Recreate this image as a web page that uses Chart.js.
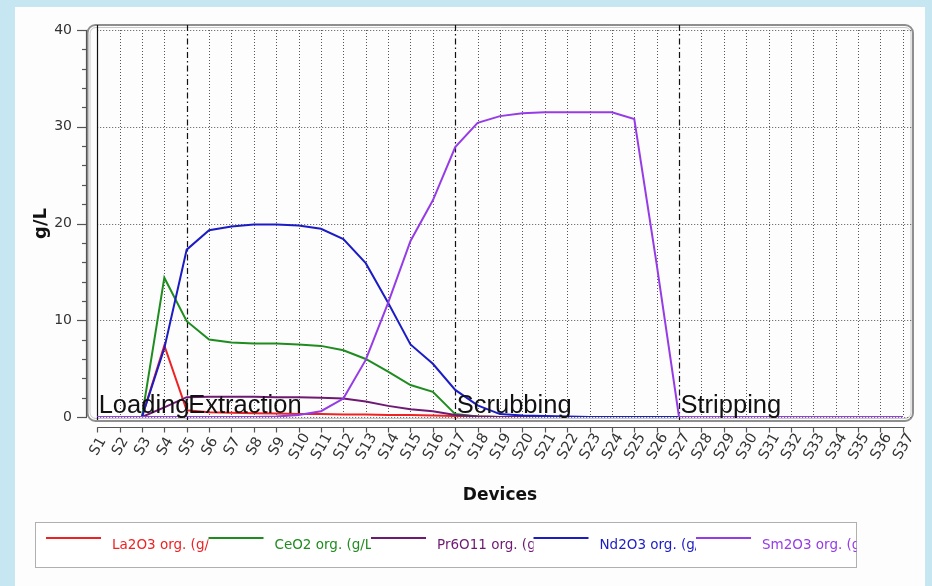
<!DOCTYPE html>
<html><head><meta charset="utf-8">
<script src="https://cdn.jsdelivr.net/npm/chart.js@4/dist/chart.umd.min.js"></script>
<style>
html,body{margin:0;padding:0;width:932px;height:586px;overflow:hidden;background:#c6e6f1;}
#card{position:absolute;left:15px;top:7px;width:910px;height:579px;background:#fdfdfd;}
#c{position:absolute;left:0;top:0;}
</style></head><body>
<div id="card"></div>
<canvas id="c" width="932" height="586"></canvas>
<script>
const devices = ['S1','S2','S3','S4','S5','S6','S7','S8','S9','S10','S11','S12','S13','S14','S15','S16','S17','S18','S19','S20','S21','S22','S23','S24','S25','S26','S27','S28','S29','S30','S31','S32','S33','S34','S35','S36','S37'];
const la2o3  = [0,0,0,7.4,0.7,0.5,0.45,0.4,0.35,0.3,0.3,0.25,0.25,0.2,0.2,0.15,0.1,0.05,0,0,0,0,0,0,0,0,0,0,0,0,0,0,0,0,0,0,0];
const ceo2   = [0,0,0,14.4,9.9,8.0,7.7,7.6,7.6,7.5,7.35,6.9,6.0,4.7,3.3,2.6,0.3,0.05,0,0,0,0,0,0,0,0,0,0,0,0,0,0,0,0,0,0,0];
const pr6o11 = [0,0,0,1.0,2.05,2.1,2.1,2.1,2.05,2.05,2.0,1.9,1.6,1.15,0.8,0.6,0.2,0.05,0,0,0,0,0,0,0,0,0,0,0,0,0,0,0,0,0,0,0];
const nd2o3  = [0,0,0,7.1,17.3,19.3,19.7,19.9,19.9,19.8,19.45,18.4,15.9,11.8,7.5,5.5,2.8,1.2,0.3,0.15,0.1,0.05,0,0,0,0,0,0,0,0,0,0,0,0,0,0,0];
const sm2o3  = [0,0,0,0,0,0,0,0,0.05,0.2,0.6,1.9,5.9,11.8,18.2,22.4,27.9,30.4,31.1,31.4,31.5,31.5,31.5,31.5,30.8,15.8,0,0,0,0,0,0,0,0,0,0,0];
const seriesNames  = ['La2O3 org. (g/L)','CeO2 org. (g/L)','Pr6O11 org. (g/L)','Nd2O3 org. (g/L)','Sm2O3 org. (g/L)'];
const seriesColors = ['#ee2222','#1f8c1f','#6e1a72','#1c1cc4','#963ce6'];
const seriesData   = [la2o3, ceo2, pr6o11, nd2o3, sm2o3];
const phaseNames  = ['Loading','Extraction','Scrubbing','Stripping'];
const phaseStarts = ['S1','S5','S17','S27'];
const yMajorTicks = [0,10,20,30,40];
const yMinorTicks = [2,4,6,8,12,14,16,18,22,24,26,28,32,34,36,38];

const decor = {
  id:'decor',
  beforeDatasetsDraw(chart){
    const ctx = chart.ctx, xs = chart.scales.x, ys = chart.scales.y, a = chart.chartArea;
    const x0 = xs.getPixelForValue(0), xN = xs.getPixelForValue(devices.length-1);
    ctx.save();
    // frame
    ctx.strokeStyle = '#8e8e8e'; ctx.lineWidth = 2;
    ctx.beginPath(); ctx.roundRect(a.left+1.5, a.top-5, a.right-a.left-2.5, a.bottom-a.top+9, 8); ctx.stroke();
    ctx.strokeStyle = '#c8c8c8'; ctx.lineWidth = 1;
    ctx.beginPath(); ctx.roundRect(a.left+4, a.top-2.5, a.right-a.left-7, a.bottom-a.top+4, 6); ctx.stroke();
    // dotted grid
    ctx.strokeStyle = '#555'; ctx.lineWidth = 1; ctx.setLineDash([1,2]);
    devices.forEach((d,i)=>{
      if (phaseStarts.includes(d)) return;
      const px = Math.round(xs.getPixelForValue(i))+0.5;
      ctx.beginPath(); ctx.moveTo(px, ys.getPixelForValue(40)); ctx.lineTo(px, ys.getPixelForValue(0)); ctx.stroke();
    });
    yMajorTicks.forEach(v=>{
      const py = Math.round(ys.getPixelForValue(v))+0.5;
      ctx.beginPath(); ctx.moveTo(x0, py); ctx.lineTo(a.right-1, py); ctx.stroke();
    });
    // phase lines
    ctx.strokeStyle = '#111'; ctx.lineWidth = 1.2;
    phaseStarts.forEach(s=>{
      const i = devices.indexOf(s);
      const px = Math.round(xs.getPixelForValue(i))+0.5;
      if (i===0){ ctx.setLineDash([]); } else { ctx.setLineDash([6,3,1.5,3]); }
      ctx.beginPath(); ctx.moveTo(px, a.top-5); ctx.lineTo(px, a.bottom+3); ctx.stroke();
    });
    ctx.setLineDash([]);
    // y axis line and ticks
    ctx.strokeStyle = '#555'; ctx.lineWidth = 1.2;
    ctx.beginPath(); ctx.moveTo(a.left+0.5, ys.getPixelForValue(40)); ctx.lineTo(a.left+0.5, ys.getPixelForValue(0)); ctx.stroke();
    yMajorTicks.forEach(v=>{
      const py = Math.round(ys.getPixelForValue(v))+0.5;
      ctx.beginPath(); ctx.moveTo(a.left-9, py); ctx.lineTo(a.left+1, py); ctx.stroke();
    });
    yMinorTicks.forEach(v=>{
      const py = Math.round(ys.getPixelForValue(v))+0.5;
      ctx.beginPath(); ctx.moveTo(a.left-4, py); ctx.lineTo(a.left+1, py); ctx.stroke();
    });
    // x axis line and ticks
    const ay = a.bottom + 10.5;
    ctx.beginPath(); ctx.moveTo(x0, ay); ctx.lineTo(xN+2, ay); ctx.stroke();
    devices.forEach((d,i)=>{
      const px = Math.round(xs.getPixelForValue(i))+0.5;
      ctx.beginPath(); ctx.moveTo(px, ay); ctx.lineTo(px, ay+5); ctx.stroke();
    });
    // x tick labels
    ctx.fillStyle = '#333'; ctx.font = '14.5px "DejaVu Sans"';
    ctx.textAlign = 'center'; ctx.textBaseline = 'middle';
    devices.forEach((d,i)=>{
      const px = xs.getPixelForValue(i);
      ctx.save(); ctx.translate(px+1, ay+19); ctx.rotate(-Math.PI/3); ctx.fillText(d,0,0); ctx.restore();
    });
    ctx.restore();
  },
  afterDatasetsDraw(chart){
    const ctx = chart.ctx, xs = chart.scales.x, ys = chart.scales.y;
    ctx.save();
    ctx.fillStyle = '#111'; ctx.font = '25.5px "Liberation Sans"';
    ctx.textAlign = 'left'; ctx.textBaseline = 'alphabetic';
    phaseNames.forEach((n,k)=>{
      const px = xs.getPixelForValue(devices.indexOf(phaseStarts[k]));
      ctx.fillText(n, px+1.5, ys.getPixelForValue(0)-4);
    });
    ctx.restore();
  },
  afterDraw(chart){
    const ctx = chart.ctx;
    ctx.save();
    const bx = 35.5, by = 522.5, bw = 821, bh = 45;
    ctx.fillStyle = '#ffffff'; ctx.fillRect(bx, by, bw, bh);
    ctx.strokeStyle = '#b0b0b0'; ctx.lineWidth = 1; ctx.strokeRect(bx, by, bw, bh);
    const step = 162.5, start = 46;
    seriesNames.forEach((n,i)=>{
      const lx = start + step*i;
      const clipR = i < seriesNames.length-1 ? start + step*(i+1) : bx+bw;
      ctx.strokeStyle = seriesColors[i]; ctx.lineWidth = 2;
      ctx.beginPath(); ctx.moveTo(lx, 538); ctx.lineTo(lx+55, 538); ctx.stroke();
      ctx.save();
      ctx.beginPath(); ctx.rect(lx+56, by+1, clipR-lx-56, bh-2); ctx.clip();
      ctx.fillStyle = seriesColors[i]; ctx.font = '13.5px "DejaVu Sans"';
      ctx.textAlign = 'left'; ctx.textBaseline = 'alphabetic';
      ctx.fillText(n, lx+66, 549);
      ctx.restore();
    });
    ctx.restore();
  }
};

const datasets = seriesData.map((d,i)=>({
  label: seriesNames[i], data: d, borderColor: seriesColors[i], backgroundColor: seriesColors[i],
  borderWidth: 2, pointRadius: 0, tension: 0, fill: false, order: 5-i
}));

new Chart(document.getElementById('c'), {
  type: 'line',
  data: { labels: devices, datasets },
  options: {
    responsive: false, animation: false, devicePixelRatio: 1,
    layout: { padding: { left: 0, top: 30, right: 18, bottom: 76 } },
    plugins: { legend: { display: false }, tooltip: { enabled: false } },
    scales: {
      x: {
        offset: true,
        grid: { display: false }, border: { display: false },
        ticks: { display: false },
        title: { display: true, text: 'Devices', color: '#111',
                 font: { family: 'DejaVu Sans', size: 17, weight: 'bold' }, padding: { top: 0, bottom: 4 } },
        afterFit(s){ s.height = 93; }
      },
      y: {
        min: 0, max: 40,
        grid: { display: false }, border: { display: false },
        afterBuildTicks(s){ s.ticks = yMajorTicks.map(v=>({ value: v })); },
        ticks: { padding: 6, color: '#333', font: { family: 'DejaVu Sans', size: 14 } },
        title: { display: true, text: 'g/L', color: '#111',
                 font: { family: 'DejaVu Sans', size: 18, weight: 'bold' }, padding: { top: 31, bottom: 0 } },
        afterFit(s){ s.width = 86; }
      }
    }
  },
  plugins: [decor]
});
</script>
</body></html>
